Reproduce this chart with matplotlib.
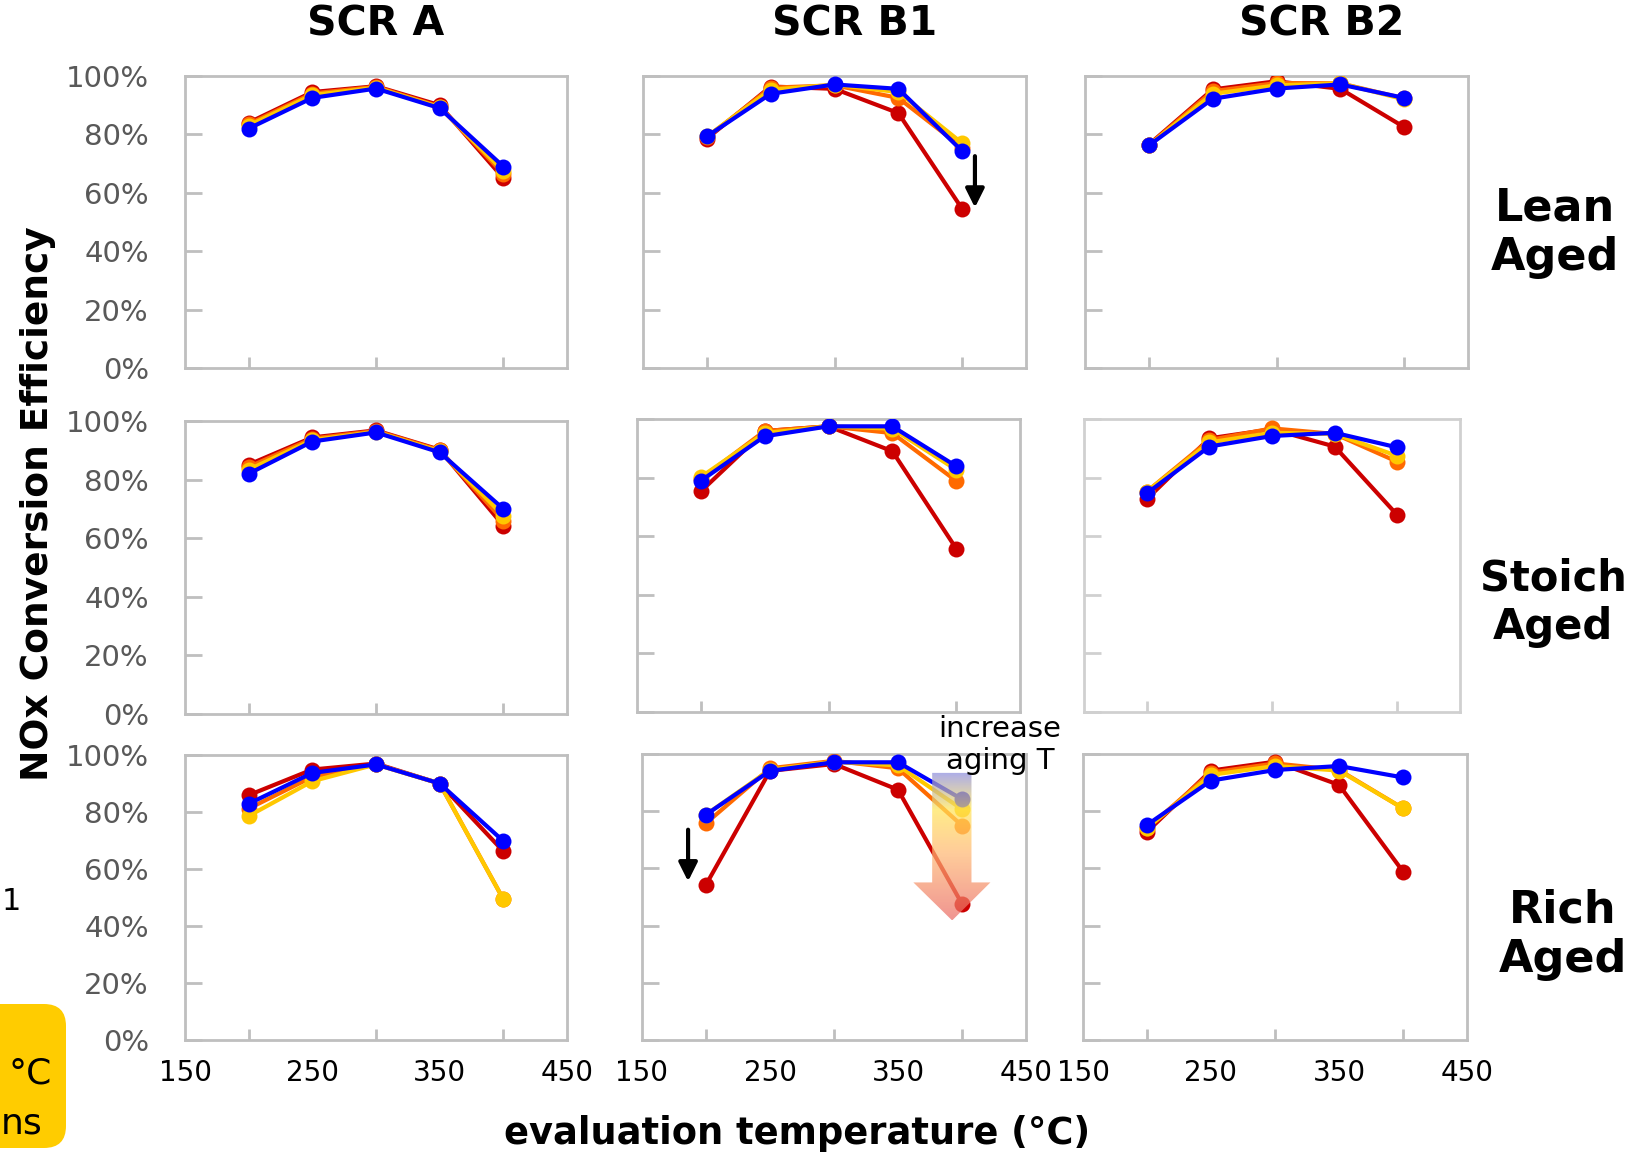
import numpy as np
import matplotlib.pyplot as plt
from matplotlib.patches import Polygon, FancyBboxPatch
from matplotlib.transforms import IdentityTransform

plt.rcParams['font.family'] = ['DejaVu Sans']

W, H = 1629, 1156

temps = [200, 250, 300, 350, 400]
xtick_labels = [150, 250, 350, 450]
ytick_values = [0, 20, 40, 60, 80, 100]
col_titles = ['SCR A', 'SCR B1', 'SCR B2']
row_titles = ['Lean\nAged', 'Stoich\nAged', 'Rich\nAged']

# series order in every panel: red (highest aging T), orange, yellow, blue (lowest)
lean_a = [[84, 94.5, 96.5, 90, 65], [83.5, 94, 96.3, 89.5, 66.5],
          [83, 93.5, 96, 89.3, 67.5], [82, 92.5, 95.7, 89, 69]]
lean_b1 = [[78.5, 96.4, 95.6, 87.3, 54.5], [79, 96, 96.8, 92.5, 75.5],
           [79.3, 95.3, 97, 94.5, 77], [79.3, 93.9, 97.1, 95.6, 74.3]]
lean_b2 = [[76.5, 95.4, 98.2, 95.6, 82.5], [76.3, 94.8, 97.6, 97.5, 92.3],
           [76.2, 93.9, 96.8, 97.5, 92], [76.2, 92.2, 95.7, 97.1, 92.5]]
stoich_a = [[85.1, 94.4, 96.8, 90.2, 64.3], [84.3, 94, 96.6, 90, 66],
            [83.4, 93.5, 96.3, 89.7, 67.7], [82, 93, 96.1, 89.3, 70]]
stoich_b1 = [[75.3, 95.9, 97.5, 89, 55.8], [79.6, 95.9, 97.5, 95.2, 78.9],
             [80.2, 95.2, 97.5, 96.7, 82.7], [78.9, 94.1, 97.5, 97.5, 83.9]]
stoich_b2 = [[72.6, 93.4, 96.5, 90.6, 67.2], [75.2, 92.8, 96.8, 94.9, 85.4],
             [75.2, 92, 95.3, 94.9, 87.4], [74.6, 90.6, 94.2, 95.3, 90.3]]
rich_a = [[85.9, 94.9, 97, 90, 66.2], [81.2, 92.3, 96.7, 90, 49.4],
          [78.6, 90.8, 96.7, 90, 49.4], [82.9, 93.7, 96.7, 90, 69.8]]
rich_b1 = [[54.3, 94.1, 96.5, 87.5, 47.6], [75.8, 95, 97.6, 95, 75],
           [78.8, 94.5, 97.3, 96, 80.7], [78.8, 94.1, 97.1, 97.1, 84.2]]
rich_b2 = [[72.8, 94.2, 97.3, 89.2, 58.9], [74, 93.5, 96.7, 94.4, 81],
           [74, 92.7, 95.8, 94.2, 81], [75.2, 90.7, 94.4, 95.8, 91.8]]

panels = [[lean_a, lean_b1, lean_b2],
          [stoich_a, stoich_b1, stoich_b2],
          [rich_a, rich_b1, rich_b2]]

colors = ['#CC0000', '#FF6A00', '#FFC800', '#0000FF']

# panel boxes in pixels: left, top, right, bottom
boxes = [[(185, 76, 567, 368), (643, 76, 1026, 368), (1085, 76, 1468, 368)],
         [(185, 421, 567, 714), (637, 419, 1020, 712), (1084, 419, 1460, 712)],
         [(185, 755, 567, 1040), (642, 754, 1026, 1040), (1083, 754, 1467, 1040)]]

fig = plt.figure(figsize=(W / 100, H / 100), dpi=100)
axes = [[None] * 3 for _ in range(3)]

for r in range(3):
    for c in range(3):
        l, t, rr, b = boxes[r][c]
        ax = fig.add_axes([l / W, 1 - b / H, (rr - l) / W, (b - t) / H])
        axes[r][c] = ax
        for vals, col in zip(panels[r][c], colors):
            ax.plot(temps, vals, color=col, lw=3, marker='o', ms=11.5,
                    markeredgewidth=0, zorder=3)
        ax.set_xlim(150, 450)
        ax.set_ylim(0, 100)
        spine_col = '#D0D0D0' if (r, c) == (1, 2) else '#BFBFBF'
        for s in ax.spines.values():
            s.set_color(spine_col)
            s.set_linewidth(2)
        ax.set_xticks(xtick_labels)
        ax.set_xticks(temps, minor=True)
        ax.tick_params(axis='x', which='major', length=0, labelsize=20,
                       labelcolor='black', pad=14)
        ax.tick_params(axis='x', which='minor', direction='in', length=8,
                       width=2, color=spine_col)
        ax.set_yticks(ytick_values)
        ax.set_yticklabels([f'{v}%' for v in ytick_values])
        ax.tick_params(axis='y', direction='in', length=12, width=2,
                       color=spine_col, labelsize=21, labelcolor='#595959', pad=26)
        if c != 0:
            ax.tick_params(axis='y', labelleft=False)
        if r != 2:
            ax.tick_params(axis='x', labelbottom=False)

# black arrows
axes[0][1].annotate('', xy=(410, 54), xytext=(410, 73.5),
                    arrowprops=dict(arrowstyle='-|>', color='black', lw=3,
                                    mutation_scale=28), zorder=6)
axes[2][1].annotate('', xy=(186, 54.5), xytext=(186, 74.5),
                    arrowprops=dict(arrowstyle='-|>', color='black', lw=3,
                                    mutation_scale=28), zorder=6)

# gradient "increase aging T" arrow
ax = axes[2][1]
arrow_pts = [(376.7, 93.4), (407.4, 93.4), (407.4, 55.1), (422.2, 55.1),
             (392.3, 41.8), (362, 55.1), (376.7, 55.1)]
poly = Polygon(arrow_pts, closed=True, facecolor='none', edgecolor='none',
               transform=ax.transData)
ax.add_patch(poly)
stops = [0.0, 0.25, 0.55, 1.0]
rgb_stops = np.array([[0.55, 0.55, 0.88], [1.0, 0.9, 0.35],
                      [1.0, 0.72, 0.45], [0.92, 0.42, 0.40]])
pos = np.linspace(0, 1, 200)
grad = np.zeros((200, 1, 4))
for k in range(3):
    grad[:, 0, k] = np.interp(pos, stops, rgb_stops[:, k])
grad[:, 0, 3] = 0.72
im = ax.imshow(grad, extent=(362, 422.2, 41.8, 93.4), aspect='auto',
               origin='upper', zorder=5)
im.set_clip_path(poly)
ax.set_xlim(150, 450)
ax.set_ylim(0, 100)

fig.text(1000 / W, 1 - 745 / H, 'increase\naging T', ha='center', va='center',
         fontsize=21, linespacing=1.15)

# titles
title_x = [376, 855, 1322]
for name, x in zip(col_titles, title_x):
    fig.text(x / W, 1 - 25 / H, name, ha='center', va='center',
             fontsize=29.5, fontweight='bold')
row_y = [233, 603, 935]
row_x = [1555, 1553, 1563]
row_fs = [32, 30, 32]
for name, x, y, fs in zip(row_titles, row_x, row_y, row_fs):
    fig.text(x / W, 1 - y / H, name, ha='center', va='center',
             fontsize=fs, fontweight='bold', linespacing=1.2)

fig.text(38 / W, 1 - 504 / H, 'NOx Conversion Efficiency', rotation=90,
         ha='center', va='center', fontsize=27, fontweight='bold')
fig.text(797 / W, 1 - 1134 / H, 'evaluation temperature (°C)', ha='center',
         va='center', fontsize=26.5, fontweight='bold')

# fragments at left edge
fig.text(2 / W, 1 - 902 / H, '1', ha='left', va='center', fontsize=22)
box = FancyBboxPatch((-40, 8), 106, 144, boxstyle='round,pad=0,rounding_size=22',
                     facecolor='#FFCC00', edgecolor='none',
                     transform=IdentityTransform())
fig.patches.append(box)
fig.text(52 / W, 1 - 1083 / H, '°C', ha='right', va='baseline', fontsize=26)
fig.text(1 / W, 1 - 1133 / H, 'ns', ha='left', va='baseline', fontsize=26)

plt.savefig('out.png', dpi=100)
